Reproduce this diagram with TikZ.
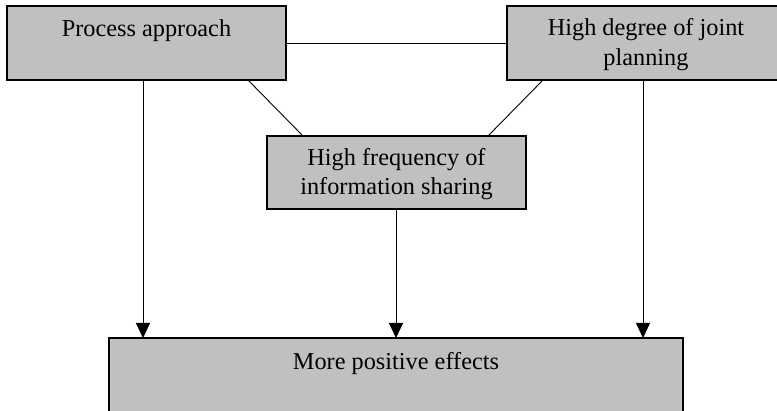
\documentclass[tikz,border=0pt]{standalone}
\usepackage{fontspec}
\setmainfont{Liberation Serif}
\usetikzlibrary{arrows.meta,calc}
\definecolor{boxgray}{HTML}{C0C0C0}
\tikzset{
  box/.style={draw=black, line width=1.1pt, fill=boxgray, rectangle, inner sep=0pt, outer sep=0pt},
  lbl/.style={inner sep=0pt, outer sep=0pt, font=\fontsize{24.3pt}{28.5pt}\selectfont, text=black},
  link/.style={draw=black, line width=0.9pt},
  arr/.style={link, -{Triangle[width=14pt,length=15pt]}}
}
\begin{document}
\begin{tikzpicture}[x=1pt,y=-1pt]
  \clip (0,0) rectangle (777,411);
  \fill[white] (0,0) rectangle (777,411);

  % boxes
  \node[box, minimum width=279pt, minimum height=74pt] (b1) at (146.5,43) {};
  \node[box, minimum width=272pt, minimum height=74pt] (b2) at (643,43) {};
  \node[box, minimum width=259pt, minimum height=73pt] (b3) at (396.5,172.5) {};
  \node[box, minimum width=574pt, minimum height=90pt] (b4) at (396,383) {};

  % labels
  \node[lbl, anchor=base] (t1) at ($(b1.north)+(0,30.7)$) {Process approach};
  \node[lbl, anchor=base] (t2a) at ($(b2.north)+(3,30)$) {High degree of joint};
  \node[lbl, anchor=base] (t2b) at ($(b2.north)+(3,59.5)$) {planning};
  \node[lbl, anchor=base] (t3a) at ($(b3.north)+(0,30)$) {High frequency of};
  \node[lbl, anchor=base] (t3b) at ($(b3.north)+(0,58.5)$) {information sharing};
  \node[lbl, anchor=base] (t4) at ($(b4.north)+(0,32)$) {More positive effects};

  % connector end points on the box edges
  \coordinate (d1) at ($(b1.south west)+(241,0)$);
  \coordinate (d3l) at ($(b3.north west)+(36,0)$);
  \coordinate (d2) at ($(b2.south west)+(36,0)$);
  \coordinate (d3r) at ($(b3.north west)+(221,0)$);
  \coordinate (s1) at ($(b1.south)+(-3.5,0)$);
  \coordinate (s3) at ($(b3.south)+(-0.5,0)$);
  \coordinate (s2) at (b2.south);

  % plain links
  \draw[link] (b1.east) -- (b2.west);
  \draw[link] (d1) -- (d3l);
  \draw[link] (d2) -- (d3r);

  % arrows into the bottom box
  \draw[arr] (s1) -- (s1 |- b4.north);
  \draw[arr] (s3) -- (s3 |- b4.north);
  \draw[arr] (s2) -- (s2 |- b4.north);
\end{tikzpicture}
\end{document}
